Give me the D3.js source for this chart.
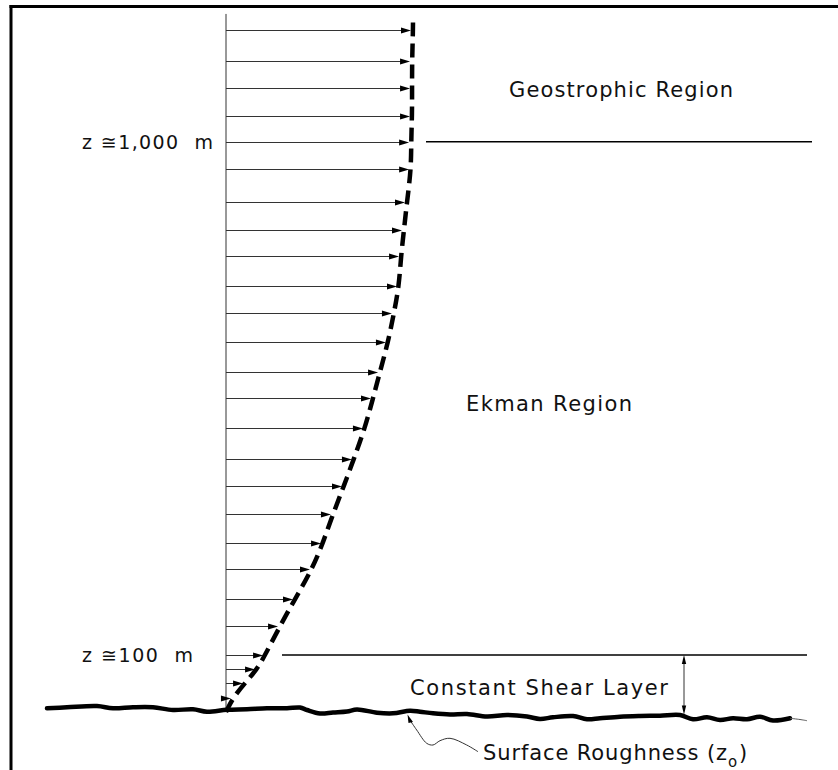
<!DOCTYPE html>
<html><head><meta charset="utf-8">
<script src="https://cdn.jsdelivr.net/npm/d3@7/dist/d3.min.js"></script>
<style>body{margin:0;background:#fff}svg{display:block}text{white-space:pre}</style>
</head><body><svg id="c" width="838" height="770"></svg>
<script>
// ---- data ----
const heights = [1195,1142,1095,1045,1000,952,895,846,800,747,699,648,597,550,498,444,397,347,297,250,198,151,100,75,51,25]; // m
const speeds  = [1.000,0.995,0.995,0.995,0.990,0.990,0.968,0.952,0.936,0.925,0.898,0.866,0.824,0.786,0.743,0.684,0.631,0.572,0.519,0.460,0.369,0.289,0.209,0.166,0.102,0.037]; // u/G
const curveTopHeight = 1217;
const curveTopSpeed = 1.0;
const axisTopHeight = 1224;
const levelHeights = [1000, 100];
const levelLabels = ["z \u22451,000  m", "z \u2245100  m"];
const regionLabels = ["Geostrophic Region", "Ekman Region", "Constant Shear Layer"];
const roughnessLabel = "Surface Roughness (z";
const roughnessSub = "o";

// ---- layout ----
const W = 838, H = 770;
const svg = d3.select("#c");
const x = d3.scaleLinear().domain([0, 1]).range([226, 413]);
const y = d3.scaleLinear().domain([0, 1000]).range([712, 141.7]);
const FONT = "'DejaVu Sans', sans-serif";

// frame
svg.append("line").attr("x1", 9.5).attr("x2", W).attr("y1", 6.5).attr("y2", 6.5)
  .attr("stroke", "#000").attr("stroke-width", 3);
svg.append("line").attr("x1", 11).attr("x2", 11).attr("y1", 5).attr("y2", H)
  .attr("stroke", "#000").attr("stroke-width", 3);

// vertical axis
svg.append("line").attr("x1", x(0)).attr("x2", x(0)).attr("y1", y(axisTopHeight)).attr("y2", y(0))
  .attr("stroke", "#333").attr("stroke-width", 1);

// wind arrows
const arrows = heights.map((h, i) => ({h, u: speeds[i]}));
const ag = svg.append("g");
arrows.forEach(d => {
  const yy = Math.round(y(d.h)) + 0.5;
  const tip = x(d.u) - 2;
  ag.append("line").attr("x1", x(0)).attr("x2", tip - 8).attr("y1", yy).attr("y2", yy)
    .attr("stroke", "#333").attr("stroke-width", 1);
  ag.append("path").attr("d", `M${tip - 10},${yy - 3}L${tip},${yy}L${tip - 10},${yy + 3}Z`)
    .attr("fill", "#000");
});

// dashed wind profile
const profile = [{h: 0, u: 0}].concat(arrows.slice().reverse()).concat([{h: curveTopHeight, u: curveTopSpeed}]);
svg.append("path").datum(profile)
  .attr("d", d3.line().x(d => x(d.u)).y(d => y(d.h)).curve(d3.curveBasis))
  .attr("fill", "none").attr("stroke", "#000").attr("stroke-width", 4.5)
  .attr("stroke-dasharray", "14,7");

// level lines
svg.append("line").attr("x1", 426).attr("x2", 812).attr("y1", y(levelHeights[0])).attr("y2", y(levelHeights[0]))
  .attr("stroke", "#000").attr("stroke-width", 1.4);
svg.append("line").attr("x1", 282).attr("x2", 807).attr("y1", y(levelHeights[1])).attr("y2", y(levelHeights[1]))
  .attr("stroke", "#000").attr("stroke-width", 1.4);

// ground (rough surface)
const ground = [[47,708.3],[67,707.3],[97,706],[113,708.3],[133,707.3],[153,707.3],[173,710],[193,709.3],[207,711.7],
  [227,709.8],[247,709.3],[267,708.3],[287,708.3],[300,707.5],[307,710],[320,713.5],[333,712.5],[347,711.5],[357,709.5],[377,712.7],
  [393,713.3],[410,710.7],[420,711.7],[433,713.3],[450,714.5],[467,714],[487,716.5],[507,715],[527,716.5],[540,719],
  [553,717.3],[573,716],[587,719.3],[600,718.3],[620,716.7],[640,716],[660,715.7],[680,715],[693,719.3],[707,717.3],
  [720,720],[733,718.3],[747,719.3],[760,716.7],[773,720.5],[790,718.3]];
svg.append("path").datum(ground)
  .attr("d", d3.line().curve(d3.curveCatmullRom))
  .attr("fill", "none").attr("stroke", "#000").attr("stroke-width", 4.5).attr("stroke-linejoin", "round").attr("stroke-linecap", "round");
svg.append("path").datum([[790,718.3],[800,719.5],[807,720.7]])
  .attr("d", d3.line().curve(d3.curveCatmullRom))
  .attr("fill", "none").attr("stroke", "#555").attr("stroke-width", 1);

// constant shear layer dimension arrow
const dx = 684, dy1 = y(levelHeights[1]), dy2 = 714.5;
svg.append("line").attr("x1", dx).attr("x2", dx).attr("y1", dy1 + 6).attr("y2", dy2 - 6)
  .attr("stroke", "#333").attr("stroke-width", 1);
svg.append("path").attr("d", `M${dx - 2.2},${dy1 + 9}L${dx},${dy1}L${dx + 2.2},${dy1 + 9}Z`).attr("fill", "#000");
svg.append("path").attr("d", `M${dx - 2.2},${dy2 - 9}L${dx},${dy2}L${dx + 2.2},${dy2 - 9}Z`).attr("fill", "#000");

// roughness leader
const leader = [[478,751.7],[466.7,745],[450,738.3],[440,740.7],[433,745],[426.7,743.3],[416.7,730],[410.5,721]];
svg.append("path").datum(leader)
  .attr("d", d3.line().curve(d3.curveCatmullRom))
  .attr("fill", "none").attr("stroke", "#333").attr("stroke-width", 1);
svg.append("path").attr("d", "M407.5,714.5L413,722L408.5,723Z").attr("fill", "#000");

// text helper
function label(txt, x0, x1, base, size) {
  return svg.append("text").attr("x", x0).attr("y", base).attr("xml:space", "preserve").text(txt)
    .attr("font-family", FONT).attr("font-size", size).attr("fill", "#111")
    .attr("textLength", x1 - x0).attr("lengthAdjust", "spacing");
}
label(levelLabels[0], 82, 213, y(levelHeights[0]) + 7, 19);
label(levelLabels[1], 82, 193, y(levelHeights[1]) + 7.5, 19);
label(regionLabels[0], 509, 733, 96.5, 21);
label(regionLabels[1], 466, 632, 411, 21);
label(regionLabels[2], 410, 668, 694.5, 21);
label(roughnessLabel, 483, 727, 759.5, 21);
svg.append("text").attr("x", 728).attr("y", 767).text(roughnessSub)
  .attr("font-family", FONT).attr("font-size", 15).attr("fill", "#111");
svg.append("text").attr("x", 739).attr("y", 759.5).text(")")
  .attr("font-family", FONT).attr("font-size", 21).attr("fill", "#111");
</script></body></html>
